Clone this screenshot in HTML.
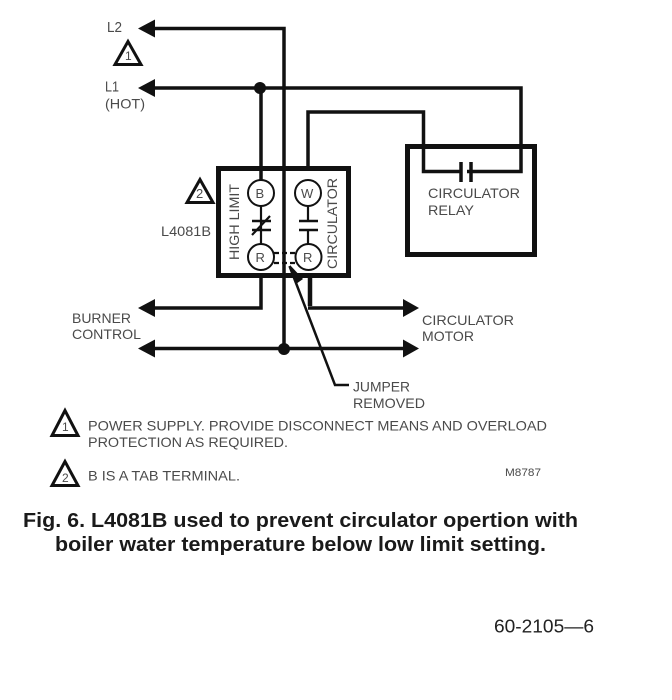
<!DOCTYPE html>
<html><head><meta charset="utf-8"><style>
html,body{margin:0;padding:0;background:#fff;width:672px;height:700px;overflow:hidden}
svg{display:block}
text{font-family:"Liberation Sans",sans-serif;fill:#4a4a4a;font-size:14px}
.k{fill:#111;stroke:none}
.cap{font-weight:bold;font-size:20px;fill:#1a1a1a}
</style></head><body>
<svg width="672" height="700" viewBox="0 0 672 700" xmlns="http://www.w3.org/2000/svg">
<g fill="none" stroke="#111" stroke-width="3.5">
<path d="M150 28.500H284V349"/>
<path d="M150 88H521V171.500H467"/>
<path d="M461 171.500H423.500V112H308V167"/>
<path d="M261 88V180"/>
<path d="M261 278V308H150"/>
<path d="M310 278V306" stroke-width="4.500"/>
<path d="M308 308H408"/>
<path d="M150 348.500H408"/>
<rect x="218.500" y="168.500" width="130" height="107" stroke-width="5"/>
<rect x="407.500" y="146.500" width="127" height="108" stroke-width="5"/>
<path d="M461 162V182M471 162V182" stroke-width="3.500"/>
</g>
<g fill="#fff" stroke="#111" stroke-width="2">
<circle cx="261" cy="193" r="13"/><circle cx="308" cy="193" r="13"/>
<circle cx="261" cy="257" r="13"/><circle cx="308.500" cy="257" r="13"/>
</g>
<g fill="none" stroke="#111" stroke-width="2.200">
<path d="M261 206V244M308 206V221M308 230V244"/>
<path d="M252 235L270 216"/>
<path d="M274 253H295M274 263H295" stroke-dasharray="5 3"/>
</g>
<path d="M252 221H271M252 230H271M299 221H318M299 230H318" fill="none" stroke="#111" stroke-width="2.500"/>
<path d="M289.500 266L335 385H349" fill="none" stroke="#111" stroke-width="2.500"/>
<path d="M290 265L303 279L296 284Z" class="k"/>
<g class="k">
<path d="M138 28.500L155 19.500V37.500Z"/>
<path d="M138 88L155 79V97Z"/>
<path d="M138 308L155 299V317Z"/>
<path d="M138 348.500L155 339.500V357.500Z"/>
<path d="M419 308L403 299V317Z"/>
<path d="M419 348.500L403 339.500V357.500Z"/>
<circle cx="260" cy="88" r="6"/>
<circle cx="284" cy="349" r="6"/>
</g>
<g fill="none" stroke="#111" stroke-width="3">
<path d="M128 41.500L115 64.500H141Z"/>
<path d="M200 179.500L187 202.500H213Z"/>
<path d="M65 410.500L52 435.500H78Z"/>
<path d="M65 461.500L52 485.500H78Z"/>
</g>
<g>
<text x="107" y="32" textLength="15" lengthAdjust="spacingAndGlyphs" style="font-size:15px">L2</text>
<text x="125" y="60" style="font-size:12px">1</text>
<text x="105" y="91.500" textLength="14" lengthAdjust="spacingAndGlyphs" style="font-size:15px">L1</text>
<text x="105" y="108.500" textLength="40" lengthAdjust="spacingAndGlyphs">(HOT)</text>
<text x="196" y="198" style="font-size:13px">2</text>
<text x="161" y="236" textLength="50" lengthAdjust="spacingAndGlyphs">L4081B</text>
<text x="255.500" y="198" style="font-size:13px">B</text>
<text x="301" y="198" style="font-size:13px">W</text>
<text x="255.500" y="262" style="font-size:13px">R</text>
<text x="303" y="262" style="font-size:13px">R</text>
<text transform="translate(239,260) rotate(-90)" textLength="76" lengthAdjust="spacingAndGlyphs">HIGH LIMIT</text>
<text transform="translate(337,269) rotate(-90)" textLength="91" lengthAdjust="spacingAndGlyphs">CIRCULATOR</text>
<text x="428" y="198" textLength="92" lengthAdjust="spacingAndGlyphs">CIRCULATOR</text>
<text x="428" y="215" textLength="46" lengthAdjust="spacingAndGlyphs">RELAY</text>
<text x="72" y="323" textLength="59" lengthAdjust="spacingAndGlyphs">BURNER</text>
<text x="72" y="339" textLength="69" lengthAdjust="spacingAndGlyphs">CONTROL</text>
<text x="422" y="325" textLength="92" lengthAdjust="spacingAndGlyphs">CIRCULATOR</text>
<text x="422" y="341" textLength="52" lengthAdjust="spacingAndGlyphs">MOTOR</text>
<text x="353" y="391.500" textLength="57" lengthAdjust="spacingAndGlyphs">JUMPER</text>
<text x="353" y="408" textLength="72" lengthAdjust="spacingAndGlyphs">REMOVED</text>
<text x="62" y="431" style="font-size:12px">1</text>
<text x="62" y="482" style="font-size:12px">2</text>
<text x="88" y="430.500" textLength="459" lengthAdjust="spacingAndGlyphs">POWER SUPPLY. PROVIDE DISCONNECT MEANS AND OVERLOAD</text>
<text x="88" y="447" textLength="200" lengthAdjust="spacingAndGlyphs">PROTECTION AS REQUIRED.</text>
<text x="88" y="480.500" textLength="152" lengthAdjust="spacingAndGlyphs">B IS A TAB TERMINAL.</text>
<text x="505" y="476" textLength="36" lengthAdjust="spacingAndGlyphs" style="font-size:11px">M8787</text>
<text class="cap" x="23" y="527" textLength="555" lengthAdjust="spacingAndGlyphs">Fig. 6. L4081B used to prevent circulator opertion with</text>
<text class="cap" x="55" y="551" textLength="491" lengthAdjust="spacingAndGlyphs">boiler water temperature below low limit setting.</text>
<text x="494" y="632.500" textLength="100" lengthAdjust="spacingAndGlyphs" style="font-size:18px;fill:#222">60-2105—6</text>
</g>
</svg>
</body></html>
